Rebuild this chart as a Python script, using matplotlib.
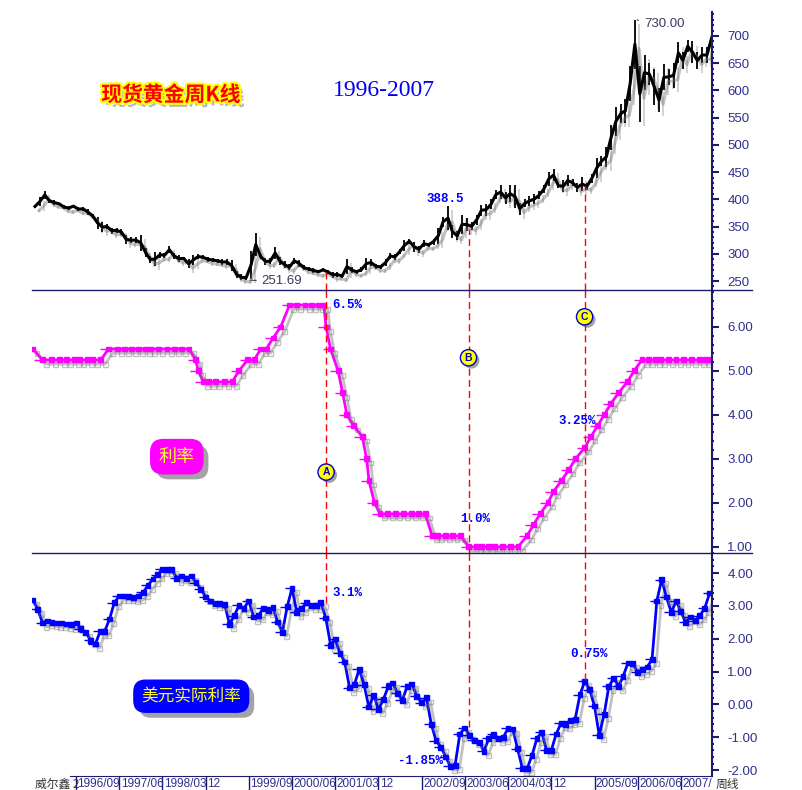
import matplotlib
matplotlib.use("Agg")
import matplotlib.pyplot as plt
import matplotlib.dates as mdates
import matplotlib.patheffects as pe
from matplotlib.lines import Line2D
from matplotlib.ticker import MultipleLocator, FormatStrFormatter
import numpy as np
import pandas as pd

plt.rcParams['font.family'] = ['Liberation Sans', 'Noto Sans CJK SC', 'DejaVu Sans']

# %% data
# gold weekly K-line, summarised as monthly low / high (USD/oz), 1995-12 .. 2007-09
gold_low = [
    384,
    387, 400, 394, 390, 390, 382, 380, 385, 378, 379, 371, 366,
    345, 340, 345, 337, 338, 335, 318, 320, 320, 306, 295, 283,
    278, 293, 292, 301, 290, 285, 288, 273, 280, 290, 290, 285,
    285, 283, 279, 280, 268, 256, 252, 252, 254, 296, 290, 280,
    281, 290, 279, 273, 270, 282, 276, 270, 268, 265, 264, 268,
    263, 256, 257, 255, 263, 265, 263, 266, 271, 278, 272, 272,
    278, 290, 288, 300, 305, 318, 304, 302, 312, 313, 317, 318,
    350, 343, 329, 325, 336, 342, 343, 352, 370, 370, 382, 400,
    400, 392, 395, 384, 372, 385, 388, 391, 400, 412, 424, 433,
    420, 413, 424, 424, 414, 415, 418, 430, 440, 461, 460, 490,
    517, 540, 540, 580, 640, 542, 600, 610, 573, 560, 600, 610,
    605, 650, 640, 670, 650, 640, 650, 650, 680,
]
gold_high = [
    390,
    405, 416, 401, 398, 394, 390, 388, 390, 386, 386, 382, 373,
    368, 358, 355, 348, 348, 345, 335, 330, 330, 335, 310, 296,
    303, 304, 302, 314, 302, 297, 295, 290, 298, 300, 297, 295,
    292, 291, 291, 290, 289, 268, 262, 260, 305, 338, 300, 292,
    292, 313, 295, 287, 281, 292, 289, 279, 276, 274, 270, 273,
    270, 267, 267, 263, 290, 275, 271, 276, 293, 290, 282, 280,
    290, 302, 300, 308, 326, 328, 322, 315, 325, 320, 328, 348,
    368, 388, 352, 341, 372, 365, 358, 372, 390, 392, 400, 417,
    427, 413, 426, 426, 394, 400, 406, 410, 415, 426, 451, 456,
    430, 435, 445, 437, 430, 441, 430, 447, 475, 479, 496, 537,
    570, 575, 585, 645, 730, 645, 665, 650, 640, 605, 648, 640,
    650, 688, 670, 692, 690, 670, 680, 680, 715,
]
gold_months = pd.date_range("1995-12-01", periods=len(gold_low), freq="MS") + pd.Timedelta(days=14)

# fed funds target rate at each FOMC meeting (%)
fed_dates = [
    "1995-12-01", "1996-01-31", "1996-03-26", "1996-05-21", "1996-07-03", "1996-08-20", "1996-09-24", "1996-11-13", "1996-12-17",
    "1997-02-05", "1997-03-25", "1997-05-20", "1997-07-02", "1997-08-19", "1997-09-30", "1997-11-12", "1997-12-16",
    "1998-02-04", "1998-03-31", "1998-05-19", "1998-07-01", "1998-08-18", "1998-09-29", "1998-10-15", "1998-11-17", "1998-12-22",
    "1999-02-03", "1999-03-30", "1999-05-18", "1999-06-30", "1999-08-24", "1999-10-05", "1999-11-16", "1999-12-21",
    "2000-02-02", "2000-03-21", "2000-05-16", "2000-06-28", "2000-08-22", "2000-10-03", "2000-11-15", "2000-12-19",
    "2001-01-03", "2001-01-31", "2001-03-20", "2001-04-18", "2001-05-15", "2001-06-27", "2001-08-21", "2001-09-17", "2001-10-02", "2001-11-06", "2001-12-11",
    "2002-01-30", "2002-03-19", "2002-05-07", "2002-06-26", "2002-08-13", "2002-09-24", "2002-11-06", "2002-12-10",
    "2003-01-29", "2003-03-18", "2003-05-06", "2003-06-25", "2003-08-12", "2003-09-16", "2003-10-28", "2003-12-09",
    "2004-01-28", "2004-03-16", "2004-05-04", "2004-06-30", "2004-08-10", "2004-09-21", "2004-11-10", "2004-12-14",
    "2005-02-02", "2005-03-22", "2005-05-03", "2005-06-30", "2005-08-09", "2005-09-20", "2005-11-01", "2005-12-13",
    "2006-01-31", "2006-03-28", "2006-05-10", "2006-06-29", "2006-08-08", "2006-09-20", "2006-10-25", "2006-12-12",
    "2007-01-31", "2007-03-21", "2007-05-09", "2007-06-28", "2007-08-07", "2007-09-14",
]
fed_rates = [
    5.5, 5.25, 5.25, 5.25, 5.25, 5.25, 5.25, 5.25, 5.25,
    5.25, 5.5, 5.5, 5.5, 5.5, 5.5, 5.5, 5.5,
    5.5, 5.5, 5.5, 5.5, 5.5, 5.25, 5.0, 4.75, 4.75,
    4.75, 4.75, 4.75, 5.0, 5.25, 5.25, 5.5, 5.5,
    5.75, 6.0, 6.5, 6.5, 6.5, 6.5, 6.5, 6.5,
    6.0, 5.5, 5.0, 4.5, 4.0, 3.75, 3.5, 3.0, 2.5, 2.0, 1.75,
    1.75, 1.75, 1.75, 1.75, 1.75, 1.75, 1.25, 1.25,
    1.25, 1.25, 1.25, 1.0, 1.0, 1.0, 1.0, 1.0,
    1.0, 1.0, 1.0, 1.25, 1.5, 1.75, 2.0, 2.25,
    2.5, 2.75, 3.0, 3.25, 3.5, 3.75, 4.0, 4.25,
    4.5, 4.75, 5.0, 5.25, 5.25, 5.25, 5.25, 5.25,
    5.25, 5.25, 5.25, 5.25, 5.25, 5.25,
]

# US real interest rate (%), monthly 1995-12 .. 2007-09
real_rate = [
    3.18,
    2.90, 2.48, 2.54, 2.50, 2.48, 2.48, 2.45, 2.42, 2.48, 2.30, 2.20, 1.95,
    1.84, 2.23, 2.23, 2.60, 3.10, 3.30, 3.30, 3.28, 3.25, 3.30, 3.42, 3.63,
    3.82, 3.95, 4.12, 4.12, 4.10, 3.84, 3.91, 3.84, 3.91, 3.70, 3.51, 3.27,
    3.15, 3.08, 3.08, 3.05, 2.44, 2.70, 3.02, 2.93, 3.15, 2.66, 2.70, 2.93,
    2.86, 2.96, 2.51, 2.20, 2.97, 3.54, 2.81, 2.93, 3.09, 3.02, 3.02, 3.10,
    2.63, 1.80, 1.99, 1.55, 1.29, 0.50, 0.60, 1.07, 0.60, -0.08, 0.28, -0.15,
    0.15, 0.54, 0.65, 0.34, 0.12, 0.55, 0.62, 0.25, 0.05, 0.20, -0.60, -1.10,
    -1.30, -1.60, -1.88, -1.85, -0.90, -0.72, -0.94, -1.09, -1.15, -1.43, -1.03, -0.91,
    -1.03, -1.00, -0.73, -0.75, -1.35, -1.95, -1.95, -1.55, -1.03, -0.85, -1.40, -1.40,
    -0.90, -0.57, -0.60, -0.50, -0.45, 0.30, 0.70, 0.45, -0.05, -0.94, -0.30, 0.55,
    0.80, 0.55, 0.85, 1.26, 1.25, 0.98, 1.05, 1.14, 1.37, 3.15, 3.80, 3.27,
    2.80, 3.15, 2.84, 2.50, 2.66, 2.55, 2.70, 2.93, 3.39,
]
real_months = pd.date_range("1995-12-01", periods=len(real_rate), freq="MS")

# events A / B / C
event_dates = ["2001-01-03", "2003-06-25", "2005-06-30"]
event_gold = [272, 345, 425]
event_real = [3.10, -0.70, 0.75]
event_tags = ["A", "B", "C"]
event_tag_y = [2.70, 5.30, 6.23]

tick_dates = ["1996-09-01", "1997-06-01", "1998-03-01", "1998-12-01", "1999-09-01", "2000-06-01",
              "2001-03-01", "2001-12-01", "2002-09-01", "2003-06-01", "2004-03-01", "2004-12-01",
              "2005-09-01", "2006-06-01", "2007-03-01"]
tick_labels = ["1996/09", "1997/06", "1998/03", "12", "1999/09", "2000/06", "2001/03", "12",
               "2002/09", "2003/06", "2004/03", "12", "2005/09", "2006/06", "2007/"]

# %% figure
NAVY = "#1c1c6e"
LAB = "#2f2f8f"
W, H = 802, 790
fig = plt.figure(figsize=(W / 100, H / 100), dpi=100)

def frac(x0, y0, x1, y1):
    return [x0 / W, 1 - y1 / H, (x1 - x0) / W, (y1 - y0) / H]

ax1 = fig.add_axes(frac(32, 12, 712, 290))
ax2 = fig.add_axes(frac(32, 290, 712, 553), sharex=ax1)
ax3 = fig.add_axes(frac(32, 553, 712, 776), sharex=ax1)

shadow_line = [pe.SimpleLineShadow(offset=(3, -3), shadow_color="#777777", alpha=0.45), pe.Normal()]

for ax, lim, major, minor, fmt in [(ax1, (233.5, 744), 50, 10, "%d"),
                                   (ax2, (0.86, 6.84), 1, 0.2, "%.2f"),
                                   (ax3, (-2.18, 4.61), 1, 0.2, "%.2f")]:
    ax.set_ylim(*lim)
    for s in ["left", "top", "bottom"]:
        ax.spines[s].set_visible(False)
    ax.spines["right"].set_color(NAVY)
    ax.spines["right"].set_linewidth(1.5)
    ax.yaxis.tick_right()
    ax.yaxis.set_major_locator(MultipleLocator(major))
    ax.yaxis.set_minor_locator(MultipleLocator(minor))
    ax.yaxis.set_major_formatter(FormatStrFormatter(fmt))
    ax.tick_params(axis="y", which="major", direction="out", length=5, width=1.5,
                   color=NAVY, labelcolor=LAB, labelsize=9.5, pad=6)
    ax.tick_params(axis="y", which="minor", direction="out", length=1.2, width=1.5, color=NAVY)
    ax.tick_params(axis="x", bottom=False, labelbottom=False)

ax1.set_xlim(pd.Timestamp("1995-11-26"), pd.Timestamp("2007-09-16"))

# gold K-line: monthly range bars plus a line through the middle of each range
gold_mid = (np.array(gold_low) + np.array(gold_high)) / 2
ax1.vlines(gold_months, gold_low, gold_high, color="black", lw=1.3,
           path_effects=[pe.SimpleLineShadow(offset=(3, -3), shadow_color="#777777", alpha=0.35), pe.Normal()])
ax1.plot(gold_months, gold_mid, color="black", lw=2.2, path_effects=shadow_line)

ann = dict(fontsize=9.5, color="#3a3a5a")
ax1.annotate("251.69", xy=(pd.Timestamp("1999-08-25"), 251.69), xytext=(pd.Timestamp("1999-11-22"), 249.5),
             va="center", arrowprops=dict(arrowstyle="-", color="#3a3a5a", lw=0.8), **ann)
ax1.annotate("730.00", xy=(pd.Timestamp("2006-05-12"), 730), xytext=(pd.Timestamp("2006-07-12"), 722),
             va="center", arrowprops=dict(arrowstyle="-", color="#3a3a5a", lw=0.8), **ann)

pct = dict(family=["Liberation Mono", "DejaVu Sans Mono"], fontweight="bold", fontsize=9, color="#0000ff",
           ha="left", va="center")
ax1.text(pd.Timestamp("2002-10-01"), 400.7, "388.5", **pct)

ax1.text(pd.Timestamp("1998-04-25"), 592, "现货黄金周K线", family=["Noto Sans CJK SC"], fontweight="bold",
         fontsize=15, color="#ff0000", ha="center", va="center",
         path_effects=[pe.SimplePatchShadow(offset=(3, -3), shadow_rgbFace="#888888", alpha=0.6),
                       pe.Stroke(linewidth=3, foreground="#ffff00"), pe.Normal()])
ax1.text(pd.Timestamp("2002-01-07"), 599, "1996-2007", family=["Liberation Serif"], fontsize=17,
         color="#0000ee", ha="center", va="center")

# fed funds
fd = pd.to_datetime(fed_dates)
ax2.plot(fd, fed_rates, color="#ff00ff", lw=2, marker="s", ms=3.5, path_effects=shadow_line)
ax2.plot(fd, fed_rates, lw=0, marker=0, ms=6, mew=1, color="#ff00ff")
ax2.text(pd.Timestamp("2001-02-10"), 6.5, "6.5%", **pct)
ax2.text(pd.Timestamp("2003-05-01"), 1.64, "1.0%", **pct)
ax2.text(pd.Timestamp("2005-01-13"), 3.86, "3.25%", **pct)

# real rate
ax3.plot(real_months, real_rate, color="#0000ff", lw=2, marker="s", ms=3.5, path_effects=shadow_line)
ax3.plot(real_months, real_rate, lw=0, marker=0, ms=5, mew=1, color="#0000ff")
ax3.text(pd.Timestamp("2001-02-10"), 3.39, "3.1%", **pct)
ax3.text(pd.Timestamp("2005-03-28"), 1.53, "0.75%", **pct)
ax3.text(pd.Timestamp("2002-04-04"), -1.73, "-1.85%", **pct)

# label boxes with a drop shadow on the box
def box_label(ax, x, y, s, face, size, pad):
    t = ax.text(x, y, s, ha="center", va="center", family=["Noto Sans CJK SC"], fontsize=size,
                color="#ffff22", zorder=5,
                bbox=dict(boxstyle="round,pad=%s,rounding_size=0.7" % pad, fc=face, ec=face))
    t.get_bbox_patch().set_path_effects(
        [pe.SimplePatchShadow(offset=(4, -4), shadow_rgbFace="#666666", alpha=0.6), pe.Normal()])

box_label(ax2, pd.Timestamp("1998-06-01"), 3.05, "利率", "#ff00ff", 13, 0.45)
box_label(ax3, pd.Timestamp("1998-09-01"), 0.25, "美元实际利率", "#0000ff", 12, 0.45)

# event lines A / B / C
ed = pd.to_datetime(event_dates)
dash = dict(colors="#ff0000", linestyles=(0, (5, 3)), lw=1)
ax1.vlines(ed, ax1.get_ylim()[0], event_gold, **dash)
ax2.vlines(ed, *ax2.get_ylim(), **dash)
ax3.vlines(ed, event_real, ax3.get_ylim()[1], **dash)
for d, t, y in zip(ed, event_tags, event_tag_y):
    lab = ax2.text(d, y, t, ha="center", va="center", fontsize=7.5, fontweight="bold", color="#0000cc",
                   zorder=6, bbox=dict(boxstyle="circle,pad=0.3", fc="#ffff00", ec="#0000cc", lw=1))
    lab.get_bbox_patch().set_path_effects(
        [pe.SimplePatchShadow(offset=(2, -2), shadow_rgbFace="#666666", alpha=0.6), pe.Normal()])

# x axis of the bottom panel
td = pd.to_datetime(tick_dates)
ax3.spines["bottom"].set_visible(True)
ax3.spines["bottom"].set_color(NAVY)
ax3.spines["bottom"].set_bounds(mdates.date2num(pd.Timestamp("1996-07-24")), ax3.get_xlim()[1])
ax3.set_xticks(td)
ax3.tick_params(axis="x", bottom=True, labelbottom=False, direction="out", length=10, width=1, color=NAVY)
for d, lab in zip(td, tick_labels):
    ax3.annotate(lab, xy=(d, 0), xycoords=("data", "axes fraction"), xytext=(1, -1.5),
                 textcoords="offset points", ha="left", va="top", fontsize=8.5, color=LAB)

fig.text(35 / W, 1 - 784 / H, "威尔鑫 2", fontsize=8.5, color="#333333", va="center",
         family=["Noto Sans CJK SC", "DejaVu Sans"])
fig.text(716 / W, 1 - 784 / H, "周线", fontsize=8.5, color="#333333", va="center",
         family=["Noto Sans CJK SC"])

# panel separators
for y in (290, 553):
    fig.add_artist(Line2D([32 / W, 752 / W], [1 - y / H] * 2, color=NAVY, lw=1))

fig.savefig("out.png", dpi=100)
